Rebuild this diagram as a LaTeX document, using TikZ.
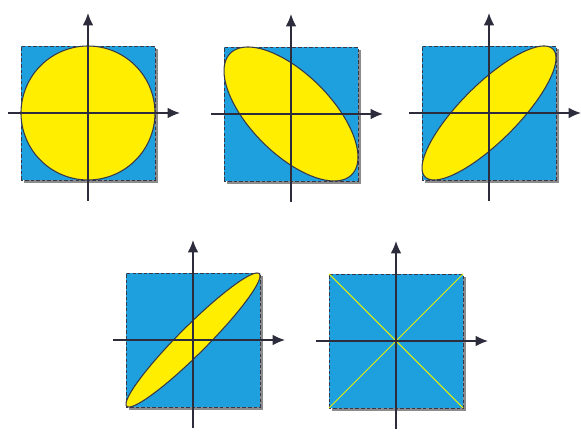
\documentclass[tikz,border=0pt]{standalone}
\usepackage{tikz}
\usetikzlibrary{arrows.meta}

\definecolor{panelblue}{RGB}{30,160,222}
\definecolor{figyellow}{RGB}{255,238,0}
\definecolor{edgedark}{RGB}{55,55,75}

\begin{document}
\begin{tikzpicture}[x=0.02cm, y=0.02cm,
    panel/.style={fill=panelblue, draw=edgedark, dash pattern=on 2pt off 1.2pt, line width=0.5pt},
    shadow/.style={fill=black!45},
    curve/.style={fill=figyellow, draw=edgedark, line width=0.6pt},
    axis/.style={draw=edgedark!80!black, line width=0.7pt, -{Latex[length=7pt,width=6pt]}}]
        % Frame of the whole figure
        \useasboundingbox (0,0) rectangle (581,432);

        % Panels with phase shifted ellipses
        \foreach \cx/\cy/\ph in {88/319/90, 291/318/130, 489/319/35, 193/92/17} {
            \begin{scope}[shift={(\cx,\cy)}]
                % Square and its shadow
                \fill[shadow] (-64,-70) rectangle (70,64);
                \draw[panel] (-67,-67) rectangle (67,67);
                % Ellipse
                \draw[curve] plot[domain=0:360, samples=120, smooth]
                    ({67*cos(\x)}, {67*cos(\x+\ph)}) -- cycle;
                % Axes
                \draw[axis] (0,-88) -- (0,100);
                \draw[axis] (-80,0) -- (92,0);
            \end{scope}
        }

        % Last panel: degenerate lines
        \begin{scope}[shift={(396,91)}]
            \fill[shadow] (-64,-70) rectangle (70,64);
            \draw[panel] (-67,-67) rectangle (67,67);
            \draw[figyellow!90!green, line width=0.6pt] (-67,-67) -- (67,67);
            \draw[figyellow!90!green, line width=0.6pt] (-67,67) -- (67,-67);
            \draw[axis] (0,-88) -- (0,100);
            \draw[axis] (-80,0) -- (92,0);
        \end{scope}
    \end{tikzpicture}
\end{document}
